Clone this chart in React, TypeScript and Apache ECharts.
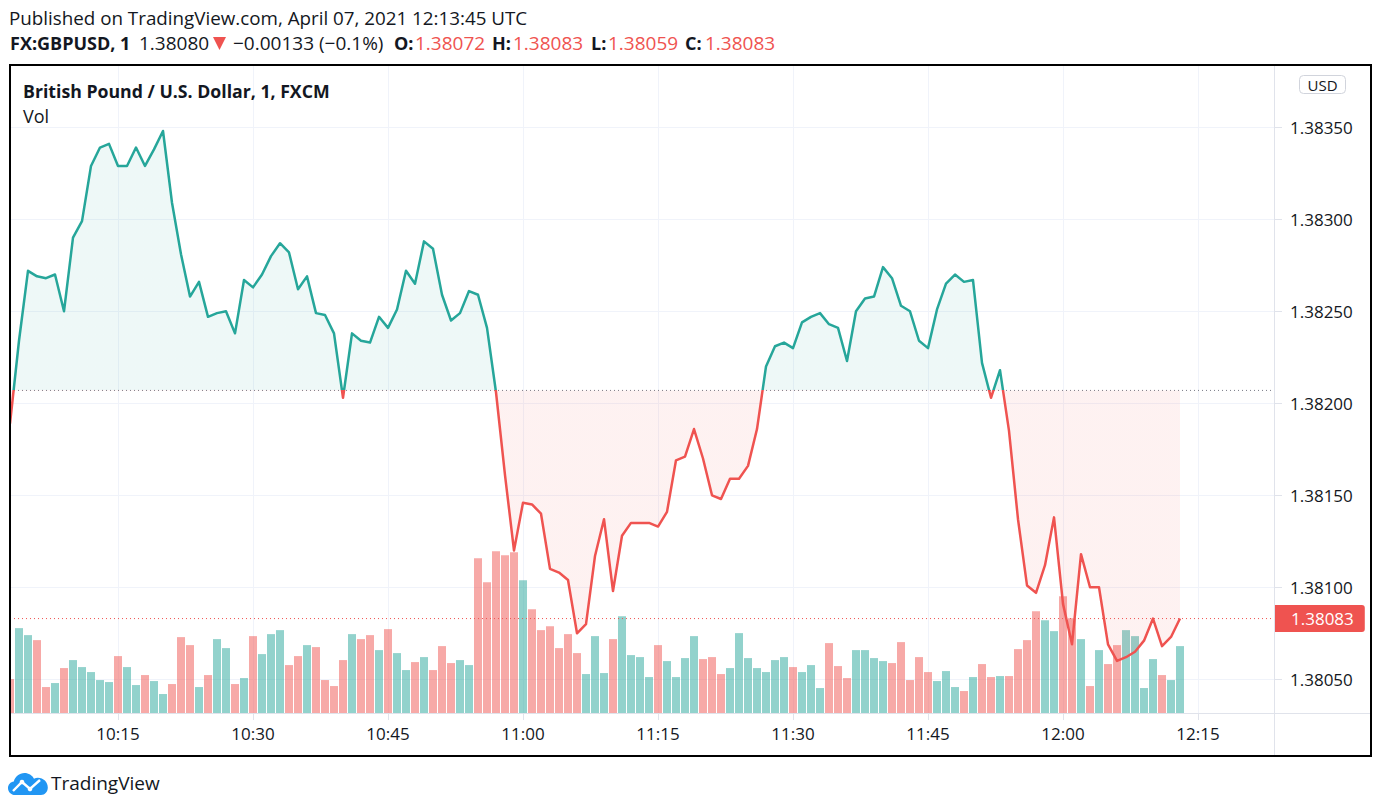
import React, { useEffect, useRef } from "react";
import * as echarts from "echarts";

const FONT = "'Open Sans', 'Noto Sans', sans-serif";
const TEAL = "#26a69a";
const RED = "#ef5350";
const TEXT = "#131722";

const times = [
  "10:03","10:04","10:05","10:06","10:07","10:08","10:09","10:10","10:11","10:12",
  "10:13","10:14","10:15","10:16","10:17","10:18","10:19","10:20","10:21","10:22",
  "10:23","10:24","10:25","10:26","10:27","10:28","10:29","10:30","10:31","10:32",
  "10:33","10:34","10:35","10:36","10:37","10:38","10:39","10:40","10:41","10:42",
  "10:43","10:44","10:45","10:46","10:47","10:48","10:49","10:50","10:51","10:52",
  "10:53","10:54","10:55","10:56","10:57","10:58","10:59","11:00","11:01","11:02",
  "11:03","11:04","11:05","11:06","11:07","11:08","11:09","11:10","11:11","11:12",
  "11:13","11:14","11:15","11:16","11:17","11:18","11:19","11:20","11:21","11:22",
  "11:23","11:24","11:25","11:26","11:27","11:28","11:29","11:30","11:31","11:32",
  "11:33","11:34","11:35","11:36","11:37","11:38","11:39","11:40","11:41","11:42",
  "11:43","11:44","11:45","11:46","11:47","11:48","11:49","11:50","11:51","11:52",
  "11:53","11:54","11:55","11:56","11:57","11:58","11:59","12:00","12:01","12:02",
  "12:03","12:04","12:05","12:06","12:07","12:08","12:09","12:10","12:11","12:12",
  "12:13",
];

const prices = [
  1.38189,1.38234,1.38272,1.38269,1.38268,1.3827,1.3825,1.3829,1.38299,1.38329,
  1.38339,1.38341,1.38329,1.38329,1.38339,1.38329,1.38338,1.38348,1.38309,1.38281,
  1.38258,1.38266,1.38247,1.38249,1.3825,1.38238,1.38267,1.38263,1.3827,1.3828,
  1.38287,1.38282,1.38262,1.38269,1.38249,1.38248,1.38238,1.38203,1.38238,1.38234,
  1.38233,1.38247,1.38241,1.38251,1.38272,1.38265,1.38288,1.38284,1.38259,1.38245,
  1.38249,1.38261,1.38259,1.38241,1.38206,1.38161,1.3812,1.38146,1.38145,1.3814,
  1.3811,1.38108,1.38104,1.38075,1.3808,1.38117,1.38137,1.38098,1.38128,1.38135,
  1.38135,1.38135,1.38133,1.38141,1.38169,1.38171,1.38186,1.3817,1.3815,1.38148,
  1.38159,1.38159,1.38166,1.38186,1.3822,1.38231,1.38233,1.3823,1.38244,1.38247,
  1.38249,1.38243,1.38241,1.38223,1.3825,1.38257,1.38258,1.38274,1.38268,1.38253,
  1.3825,1.38234,1.3823,1.38251,1.38265,1.3827,1.38266,1.38267,1.38222,1.38203,
  1.38218,1.38185,1.38137,1.38101,1.38097,1.38112,1.38138,1.38091,1.38069,1.38118,
  1.381,1.381,1.38069,1.3806,1.38062,1.38065,1.38071,1.38083,1.38068,1.38073,
  1.38083,
];

const volumes = [
  34,85,78,73,26,30,45,53,46,41,
  33,31,57,46,28,38,32,19,29,76,
  68,26,38,74,65,29,35,77,59,79,
  83,48,57,68,66,33,27,53,79,74,
  78,63,84,60,43,51,56,43,67,50,
  53,48,155,131,162,158,161,133,104,83,
  87,65,79,60,39,77,40,74,97,58,
  56,36,68,52,36,55,77,54,56,39,
  45,80,55,45,41,53,56,46,41,48,
  25,70,47,35,63,63,55,52,50,71,
  33,56,41,32,42,26,22,36,49,36,
  37,37,64,73,102,93,82,117,95,74,
  27,63,49,68,83,77,25,54,38,33,
  67,
];

// 1 = up (teal) bar, 0 = down (red) bar
const volumeUp = [
  0,1,1,0,0,1,0,1,1,1,
  1,1,0,1,1,0,1,1,0,0,
  0,1,0,1,1,0,1,0,1,1,
  1,0,0,1,0,0,0,0,1,0,
  0,1,0,1,1,0,1,0,0,0,
  1,1,0,0,0,0,0,1,0,0,
  0,0,0,0,1,1,1,0,1,1,
  1,1,0,1,1,1,1,0,0,0,
  1,1,1,1,1,1,1,0,1,1,
  1,0,0,0,1,1,1,1,0,0,
  0,0,0,1,1,1,0,1,0,0,
  1,0,0,0,0,1,1,0,0,1,
  0,1,0,0,1,1,1,1,0,1,
  1,
];

const priceTicks = [1.3805, 1.381, 1.3815, 1.382, 1.3825, 1.383, 1.3835];
const timeTicks = ["10:15", "10:30", "10:45", "11:00", "11:15", "11:30", "11:45", "12:00", "12:15"];
const baselinePrice = 1.38207;
const lastPrice = 1.38083;
const priceMin = 1.3803168;
const priceMax = 1.3838332;
const timeStart = "10:03";
const timeEndMinutes = 143.444; // minutes after 10:00 at the right edge of the pane

const toMin = (t: string) => {
  const [h, m] = t.split(":").map(Number);
  return (h - 10) * 60 + m;
};
const fmtTime = (v: number) => {
  const r = Math.round(v);
  return `${10 + Math.floor(r / 60)}:${String(r % 60).padStart(2, "0")}`;
};

const CLOUD =
  "M7 22C3.1 22 0 18.9 0 15.2C0 11.8 2.5 9 5.8 8.6C6.9 3.7 11.3 0 16.5 0C20.6 0 24.2 2.3 26 5.7C27.2 5.1 28.5 4.8 29.9 4.8C35.4 4.8 39.8 9.1 39.8 14.5C39.8 18.6 36.9 22 33 22Z";
echarts.graphic.registerShape("tvCloud", echarts.graphic.extendPath(CLOUD, {}));

function txt(text: string, x: number, y: number, size: number, color: string, bold = false, align = "left") {
  return {
    type: "text",
    x,
    y,
    silent: true,
    z: 20,
    style: {
      text,
      fill: color,
      fontSize: size,
      fontFamily: FONT,
      fontWeight: bold ? "bold" : "normal",
      align,
      verticalAlign: "middle",
    },
  };
}

export default function App() {
  const ref = useRef<HTMLDivElement>(null);

  useEffect(() => {
    if (!ref.current) return;
    const chart = echarts.init(ref.current, null, { renderer: "svg" });
    const xs = times.map(toMin);
    const xMin = toMin(timeStart);
    const volMax = Math.max(...volumes) / 0.25;
    const xTickVals = timeTicks.map(toMin);

    const option: any = {
      animation: false,
      backgroundColor: "#ffffff",
      textStyle: { fontFamily: FONT },
      grid: {
        left: 10,
        right: 107,
        top: 66,
        bottom: 98,
        containLabel: false,
        outerBoundsMode: "none",
      },
      xAxis: {
        type: "value",
        min: xMin,
        max: timeEndMinutes,
        axisLine: { show: false },
        axisTick: {
          show: true,
          length: 7,
          customValues: xTickVals,
          lineStyle: { color: "#e0e3eb" },
        },
        axisLabel: {
          customValues: xTickVals,
          formatter: (v: number) => fmtTime(v),
          color: TEXT,
          fontSize: 17,
          fontFamily: FONT,
          margin: 12,
        },
        splitLine: { show: true, lineStyle: { color: "#f0f3fa", width: 1 } },
      },
      yAxis: [
        {
          type: "value",
          position: "right",
          min: priceMin,
          max: priceMax,
          axisLine: { show: false },
          axisTick: {
            show: true,
            length: 8,
            customValues: priceTicks,
            lineStyle: { color: "#e0e3eb" },
          },
          axisLabel: {
            customValues: priceTicks,
            formatter: (v: number) => v.toFixed(5),
            color: TEXT,
            fontSize: 17,
            fontFamily: FONT,
            margin: 16,
          },
          splitLine: { show: true, lineStyle: { color: "#f0f3fa", width: 1 } },
        },
        {
          type: "value",
          min: 0,
          max: volMax,
          show: false,
          splitLine: { show: false },
        },
      ],
      visualMap: {
        type: "piecewise",
        show: false,
        seriesIndex: 1,
        dimension: 1,
        pieces: [
          { gte: 0, lt: baselinePrice, color: RED },
          { gte: baselinePrice, lte: 10, color: TEAL },
        ],
        outOfRange: { color: TEAL },
      },
      series: [
        {
          type: "bar",
          yAxisIndex: 1,
          barWidth: 8,
          silent: true,
          clip: true,
          z: 2,
          data: volumes.map((v, i) => ({
            value: [xs[i], v],
            itemStyle: { color: volumeUp[i] ? "rgba(38,166,154,0.5)" : "rgba(239,83,80,0.5)" },
          })),
        },
        {
          type: "line",
          yAxisIndex: 0,
          silent: true,
          z: 4,
          symbol: "none",
          clip: true,
          data: prices.map((p, i) => [xs[i], p]),
          lineStyle: { width: 2.5, join: "round" },
          areaStyle: { origin: baselinePrice, opacity: 0.08 },
        },
        {
          type: "line",
          yAxisIndex: 0,
          silent: true,
          z: 3,
          symbol: "none",
          data: [
            [xMin, baselinePrice],
            [timeEndMinutes, baselinePrice],
          ],
          lineStyle: { color: "#787b86", width: 1, type: [1, 3] },
        },
        {
          type: "line",
          yAxisIndex: 0,
          silent: true,
          z: 3,
          symbol: "none",
          data: [
            [xMin, lastPrice],
            [timeEndMinutes, lastPrice],
          ],
          lineStyle: { color: RED, width: 1, type: [1, 3] },
          endLabel: {
            show: true,
            formatter: () => lastPrice.toFixed(5),
            color: "#ffffff",
            backgroundColor: RED,
            fontSize: 17,
            fontFamily: FONT,
            padding: [5, 11, 5, 17],
            borderRadius: [0, 3, 3, 0],
            distance: 0,
          },
        },
      ],
      graphic: [
        // header
        txt("Published on TradingView.com, April 07, 2021 12:13:45 UTC", 9, 18, 18.8, TEXT),
        txt("FX:GBPUSD, 1", 10, 43, 18, TEXT, true),
        txt("1.38080", 139, 43, 19, TEXT),
        {
          type: "polygon",
          silent: true,
          z: 20,
          shape: { points: [[213, 37], [226, 37], [219.5, 50]] },
          style: { fill: RED },
        },
        txt("\u22120.00133 (\u22120.1%)", 233, 43, 19, TEXT),
        txt("O:", 394, 43, 18, TEXT, true),
        txt("1.38072", 415, 43, 19, RED),
        txt("H:", 492, 43, 18, TEXT, true),
        txt("1.38083", 513, 43, 19, RED),
        txt("L:", 591, 43, 18, TEXT, true),
        txt("1.38059", 608, 43, 19, RED),
        txt("C:", 685, 43, 18, TEXT, true),
        txt("1.38083", 705, 43, 19, RED),
        // legend
        txt("British Pound / U.S. Dollar, 1, FXCM", 23, 91, 17.7, TEXT, true),
        txt("Vol", 23, 116, 18, TEXT),
        // USD button
        {
          type: "rect",
          silent: true,
          z: 20,
          shape: { x: 1299.5, y: 75.5, width: 46, height: 18, r: 4 },
          style: { fill: "#ffffff", stroke: "#d1d4dc", lineWidth: 1 },
        },
        txt("USD", 1322.5, 85, 15, TEXT, false, "center"),
        // separators
        {
          type: "line",
          silent: true,
          z: 19,
          shape: { x1: 1274.5, y1: 66, x2: 1274.5, y2: 755 },
          style: { stroke: "#e0e3eb", lineWidth: 1 },
        },
        {
          type: "line",
          silent: true,
          z: 19,
          shape: { x1: 11, y1: 713.5, x2: 1370, y2: 713.5 },
          style: { stroke: "#e0e3eb", lineWidth: 1 },
        },
        // white margin left of the frame (hides anything overflowing the pane)
        {
          type: "rect",
          silent: true,
          z: 29,
          shape: { x: 0, y: 60, width: 10, height: 700 },
          style: { fill: "#ffffff" },
        },
        // frame
        {
          type: "rect",
          silent: true,
          z: 30,
          shape: { x: 10, y: 65, width: 1361, height: 691 },
          style: { fill: "none", stroke: "#000000", lineWidth: 2 },
        },
        // TradingView logo
        {
          type: "tvCloud",
          silent: true,
          z: 20,
          x: 8,
          y: 773,
          style: { fill: "#2196f3" },
        },
        {
          type: "polyline",
          silent: true,
          z: 21,
          shape: { points: [[13, 791], [22, 782], [30, 789], [40, 780]] },
          style: { stroke: "#ffffff", lineWidth: 2.4, fill: "none" },
        },
        { type: "circle", silent: true, z: 22, shape: { cx: 22, cy: 782, r: 2.3 }, style: { fill: "#ffffff" } },
        { type: "circle", silent: true, z: 22, shape: { cx: 30, cy: 789, r: 2.3 }, style: { fill: "#ffffff" } },
        txt("TradingView", 51, 783, 19, TEXT),
      ],
    };

    chart.setOption(option);
    return () => chart.dispose();
  }, []);

  return (
    <div
      ref={ref}
      style={{ position: "fixed", left: 0, top: 0, width: 1381, height: 811, background: "#ffffff" }}
    />
  );
}
